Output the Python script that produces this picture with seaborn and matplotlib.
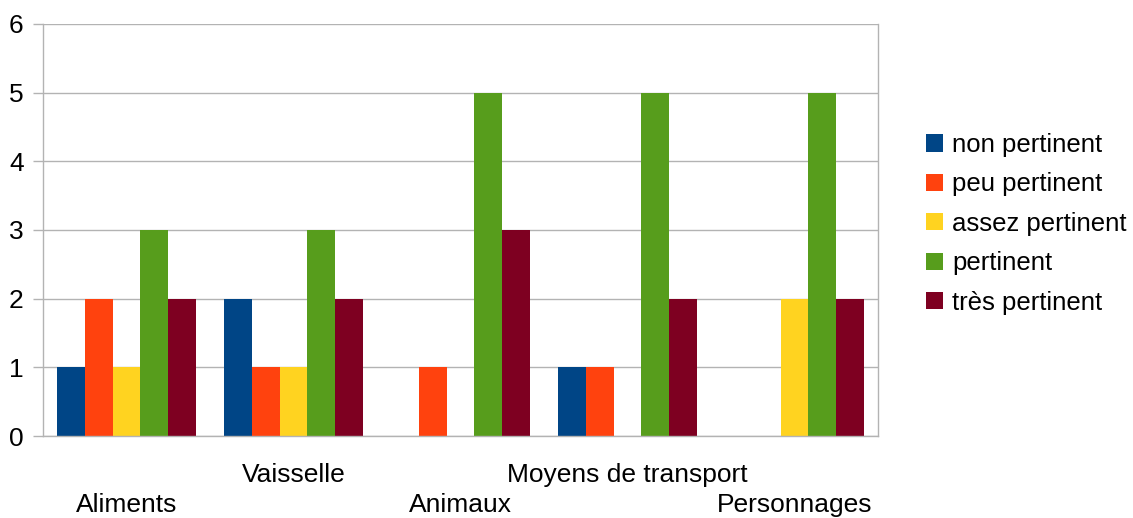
import pandas as pd
import numpy as np
import matplotlib.pyplot as plt
import seaborn as sns

# ── Data ───────────────────────────────────────────────────
categories = ["Aliments", "Vaisselle", "Animaux", "Moyens de transport", "Personnages"]
levels = ["non pertinent", "peu pertinent", "assez pertinent", "pertinent", "très pertinent"]
non_pertinent   = [1, 2, 0, 1, 0]
peu_pertinent   = [2, 1, 1, 1, 0]
assez_pertinent = [1, 1, 0, 0, 2]
pertinent       = [3, 3, 5, 5, 5]
tres_pertinent  = [2, 2, 3, 2, 2]
colors = ["#004586", "#ff420e", "#ffd320", "#579d1c", "#7e0021"]

series = [non_pertinent, peu_pertinent, assez_pertinent, pertinent, tres_pertinent]
rows = []
for lvl, vals in zip(levels, series):
    for cat, v in zip(categories, vals):
        rows.append({"cat": cat, "level": lvl, "value": v})
df = pd.DataFrame(rows)

# ── Plot ───────────────────────────────────────────────────
sns.set_style("white")
plt.rcParams["font.family"] = ["Liberation Sans", "DejaVu Sans"]
plt.rcParams["text.color"] = "black"
plt.rcParams["xtick.color"] = "black"
plt.rcParams["ytick.color"] = "black"

fig = plt.figure(figsize=(11.33, 5.18), dpi=100)
ax = fig.add_axes([0.038, 0.158, 0.737, 0.796])

sns.barplot(data=df, x="cat", y="value", hue="level", order=categories,
            hue_order=levels, palette=colors, width=0.83, gap=0,
            saturation=1, linewidth=0, ax=ax, legend=True)

grid = "#b3b3b3"
ax.set_ylim(0, 6)
ax.set_xlim(-0.5, len(categories) - 0.5)
ax.set_yticks(range(0, 7))
ax.yaxis.grid(True, color=grid, lw=1)
ax.set_axisbelow(True)
ax.spines["top"].set_visible(False)
for side in ["left", "right", "bottom"]:
    ax.spines[side].set_color(grid)
    ax.spines[side].set_linewidth(1)

# staggered category labels, tick marks at group boundaries
ax.set_xticks(range(len(categories)))
ax.set_xticklabels(categories, fontsize=19, color="black")
ax.tick_params(axis="x", which="major", length=0, pad=19)
ax.set_xticks(np.arange(-0.5, len(categories), 1), minor=True)
ax.tick_params(axis="x", which="minor", length=10, color=grid, width=1)
ax.tick_params(axis="y", length=7, color=grid, width=1, labelsize=19,
               labelcolor="black", pad=7, left=True)
for i, tick in enumerate(ax.xaxis.get_major_ticks()):
    if i % 2 == 0:
        tick.set_pad(41)
ax.set_xlabel("")
ax.set_ylabel("")

leg = ax.legend(loc="center left", bbox_to_anchor=(1.03, 0.515), frameon=False,
                fontsize=18.5, handlelength=0.65, handleheight=0.65,
                handletextpad=0.35, labelspacing=0.6)
for t in leg.get_texts():
    t.set_color("black")

plt.savefig("out.png", dpi=100)
